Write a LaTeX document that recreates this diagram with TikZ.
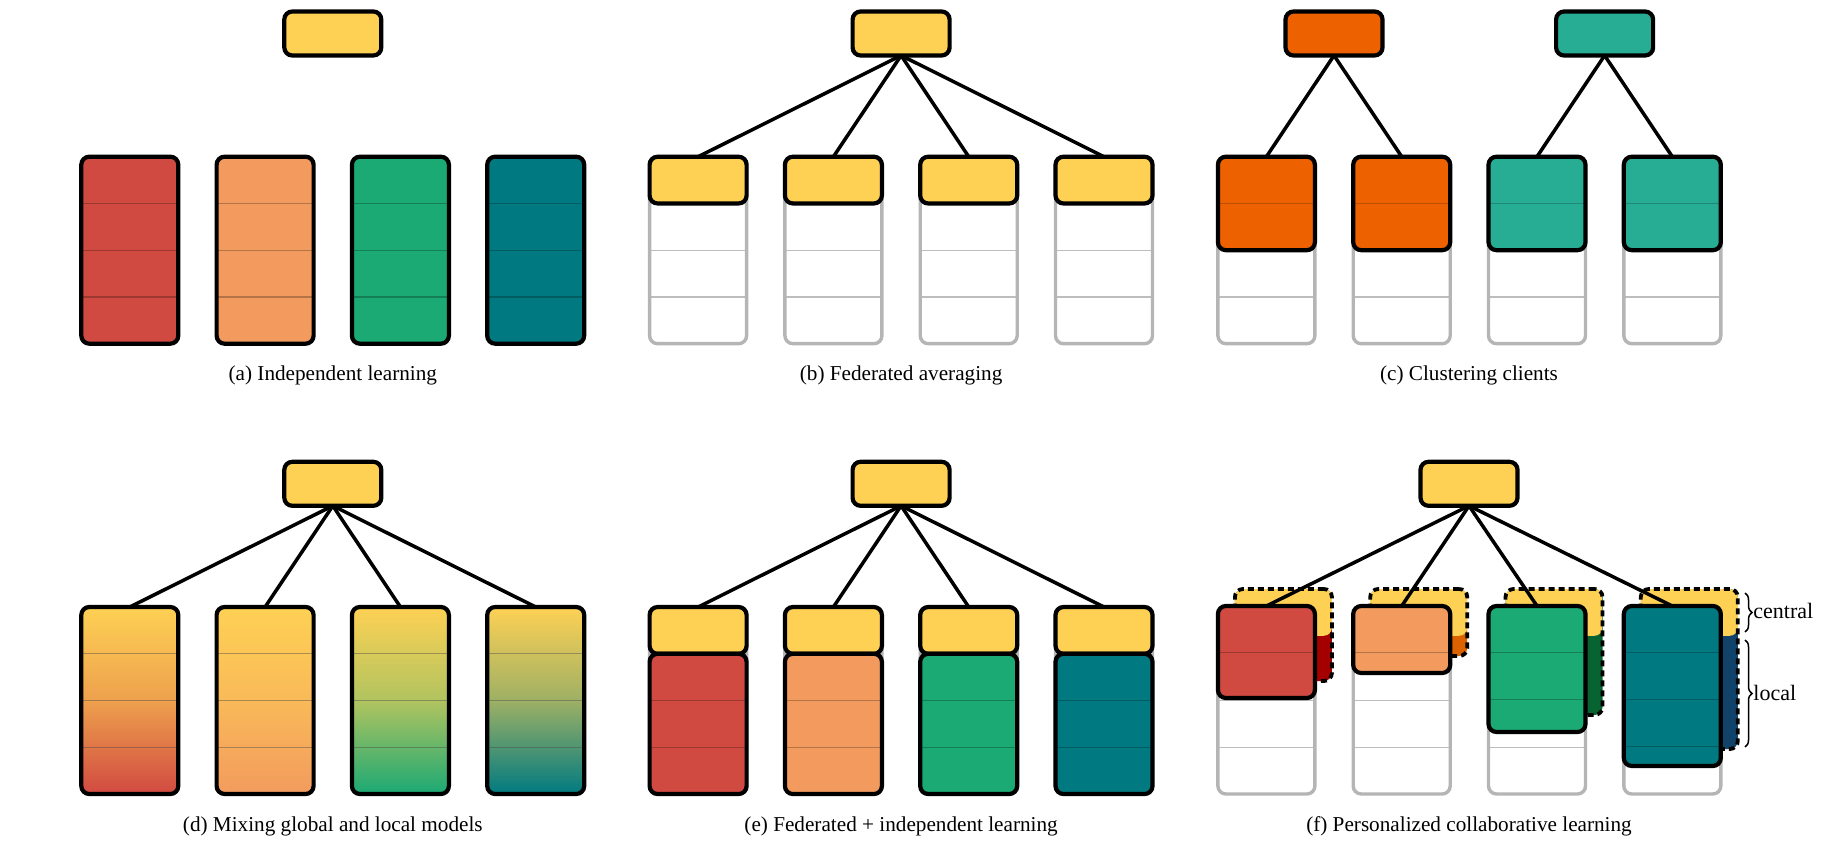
\documentclass[tikz,border=0pt]{standalone}
\usepackage{fontspec}
\setmainfont{Liberation Serif}
\usetikzlibrary{calc,decorations.pathreplacing}
\definecolor{yel}{HTML}{FED154}
\definecolor{cred}{HTML}{D14A41}
\definecolor{corg}{HTML}{F39B5E}
\definecolor{cgrn}{HTML}{1BA974}
\definecolor{ctea}{HTML}{007A80}
\definecolor{korg}{HTML}{EE6100}
\definecolor{ktea}{HTML}{26AD94}
\definecolor{dred}{HTML}{A50000}
\definecolor{dorg}{HTML}{DC6200}
\definecolor{dgrn}{HTML}{076430}
\definecolor{dblu}{HTML}{11436A}
\definecolor{gbord}{HTML}{B5B5B5}
\definecolor{gline}{HTML}{BDBDBD}
\begin{document}
\begin{tikzpicture}[x=0.5pt,y=-0.5pt,
  box/.style={rectangle, rounded corners=4pt, inner sep=0pt, outer sep=0pt, minimum width=48.5pt},
  blk/.style={box, draw=black, line width=2.1pt},
  secs/.style 2 args={path picture={\foreach \j in {#2}{\draw[#1, line width=0.6pt] ([yshift=-\j*23.375pt]path picture bounding box.north west) -- ([yshift=-\j*23.375pt]path picture bounding box.north east);}}},
  gcol/.style={box, draw=gbord, line width=1.7pt, fill=white, minimum height=93.5pt, secs={gline}{1,2,3}},
  topn/.style={blk, fill=#1, minimum height=22pt},
  backbox/.style={box, fill=#1, draw=black, line width=1.9pt, dash pattern=on 3pt off 2pt,
    path picture={\fill[yel] (path picture bounding box.north west) rectangle ([yshift=-23.375pt]path picture bounding box.north east);}},
  link/.style={line width=1.75pt, black},
  captxt/.style={anchor=base, font=\fontsize{10.6}{12}\selectfont},
  labtxt/.style={anchor=base west, font=\fontsize{11}{13}\selectfont, inner sep=0pt},
  brc/.style={decorate, decoration={brace, amplitude=3.5pt}, line width=0.75pt}
]
\useasboundingbox (0,0) rectangle (1824,860);

% ---------------- (a) ----------------
\node[topn=yel] (ta) at (332.8,33.5) {};
\foreach \k/\c in {0/cred,1/corg,2/cgrn,3/ctea}
  \node[blk, fill=\c, minimum height=93.5pt, secs={\c!75!black}{1,2,3}] (a\k) at (129.8+\k*135.3,250.2) {};
\node[captxt] (capa) at (332.8,381) {(a) Independent learning};

% ---------------- (b) ----------------
\node[topn=yel] (tb) at (901.1,33.5) {};
\foreach \k in {0,...,3}{
  \node[gcol] (gb\k) at (698.1+\k*135.3,250.2) {};
  \node[blk, fill=yel, minimum height=23.375pt] (yb\k) at (698.1+\k*135.3,180.1) {};
}
\foreach \k in {0,...,3} \draw[link] (tb.south) -- (yb\k.north);
\node[captxt] (capb) at (901.1,381) {(b) Federated averaging};

% ---------------- (c) ----------------
\node[topn=korg] (tc1) at (1334,33.5) {};
\node[topn=ktea] (tc2) at (1604.6,33.5) {};
\foreach \k/\c in {0/korg,1/korg,2/ktea,3/ktea}{
  \node[gcol] (gc\k) at (1266.4+\k*135.3,250.2) {};
  \node[blk, fill=\c, minimum height=46.75pt, secs={\c!80!black}{1}] (cc\k) at (1266.4+\k*135.3,203.45) {};
}
\draw[link] (tc1.south) -- (cc0.north);
\draw[link] (tc1.south) -- (cc1.north);
\draw[link] (tc2.south) -- (cc2.north);
\draw[link] (tc2.south) -- (cc3.north);
\node[captxt] (capc) at (1469,381) {(c) Clustering clients};

% ---------------- (d) ----------------
\node[topn=yel] (td) at (332.8,483.8) {};
\foreach \k/\c/\m in {0/cred/64,1/corg/56,2/cgrn/66,3/ctea/62}
  \node[blk, top color=yel, bottom color=\c, middle color=yel!\m!\c, minimum height=93.5pt,
        secs={black!70, draw opacity=0.45}{1,2,3}] (d\k) at (129.8+\k*135.3,700.5) {};
\foreach \k in {0,...,3} \draw[link] (td.south) -- (d\k.north);
\node[captxt] (capd) at (332.8,831) {(d) Mixing global and local models};

% ---------------- (e) ----------------
\node[topn=yel] (te) at (901.1,483.8) {};
\foreach \k/\c in {0/cred,1/corg,2/cgrn,3/ctea}{
  \node[gcol] (ge\k) at (698.1+\k*135.3,700.5) {};
  \node[blk, fill=yel, minimum height=23.375pt] (ye\k) at (698.1+\k*135.3,630.4) {};
  \node[blk, fill=\c, minimum height=70.125pt, secs={\c!75!black}{1,2}] (ce\k) at (698.1+\k*135.3,723.9) {};
}
\foreach \k in {0,...,3} \draw[link] (te.south) -- (ye\k.north);
\node[captxt] (cape) at (901.1,831) {(e) Federated + independent learning};

% ---------------- (f) ----------------
\node[topn=yel] (tf) at (1469,483.8) {};
\foreach \k in {0,...,3}
  \node[gcol] (gf\k) at (1266.4+\k*135.3,700.5) {};
\node[backbox=dred, minimum height=46pt] (bf0) at (1283.4,635) {};
\node[backbox=dorg, minimum height=33.5pt] (bf1) at (1418.7,622.5) {};
\node[backbox=dgrn, minimum height=63pt] (bf2) at (1554,652) {};
\node[backbox=dblu, minimum height=80pt] (bf3) at (1689.3,669) {};
\node[blk, fill=cred, minimum height=46pt, secs={cred!75!black}{1}] (ff0) at (1266.4,652) {};
\node[blk, fill=corg, minimum height=33.5pt, secs={corg!75!black}{1}] (ff1) at (1401.7,639.5) {};
\node[blk, fill=cgrn, minimum height=63pt, secs={cgrn!75!black}{1,2}] (ff2) at (1537,669) {};
\node[blk, fill=ctea, minimum height=80pt, secs={ctea!75!black}{1,2,3}] (ff3) at (1672.3,686) {};
\foreach \k in {0,...,3} \draw[link] (tf.south) -- (ff\k.north);
\coordinate (bc1) at (1745,593);
\coordinate (bc2) at (1745,632);
\coordinate (bl1) at (1745,640);
\coordinate (bl2) at (1745,747);
\draw[brc] (bc1) -- (bc2);
\draw[brc] (bl1) -- (bl2);
\node[labtxt] (lc) at (1753,618.5) {central};
\node[labtxt] (ll) at (1753,700) {local};
\node[captxt] (capf) at (1469,831) {(f) Personalized collaborative learning};
\end{tikzpicture}
\end{document}
